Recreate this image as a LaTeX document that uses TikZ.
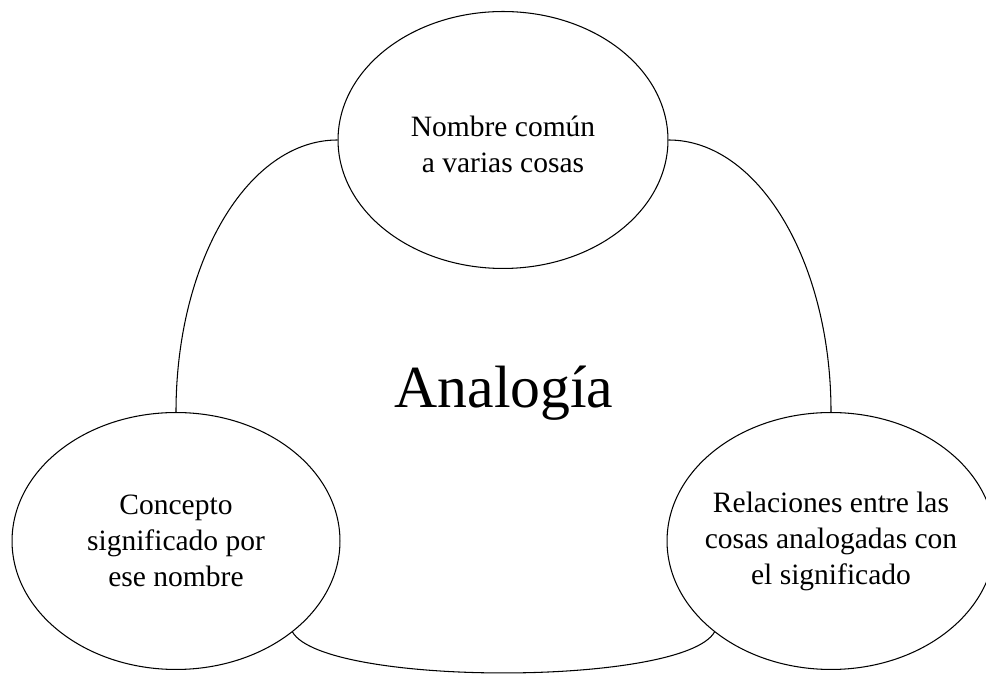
\documentclass[tikz,border=0pt]{standalone}
\usepackage{fontspec}
\setmainfont{Liberation Serif}
\usetikzlibrary{shapes.geometric}

\begin{document}
\begin{tikzpicture}[x=0.02cm, y=0.02cm, line width=0.6pt,
  bubble/.style={ellipse, draw, inner sep=0pt, minimum width=6.56cm, minimum height=5.14cm},
  words/.style={align=center, font=\fontsize{16.8}{20.5}\selectfont}]
\useasboundingbox (0,0) rectangle (986,675);
% the three ellipses
\node [bubble, minimum width=6.6cm] (top) at (503,535) {};
\node [bubble] (left) at (176,134) {};
\node [bubble] (right) at (831,134) {};
\node [words] (toptext) at (503,531) {Nombre común\\a varias cosas};
\node [words] (lefttext) at (left) {Concepto\\significado por\\ese nombre};
\node [words] (righttext) at (right) {Relaciones entre las\\cosas analogadas con\\el significado};
\node [anchor=base, font=\fontsize{34}{40}\selectfont] (analogia) at (504,267) {Analogía};
% joining curves
\draw (top.west) .. controls +(-90,0) and +(0,150) .. (left.north);
\draw (top.east) .. controls +(90,0) and +(0,150) .. (right.north);
\draw (left.-38) .. controls +(-60:63) and +(-120:63) .. (right.-142);
\end{tikzpicture}
\end{document}
